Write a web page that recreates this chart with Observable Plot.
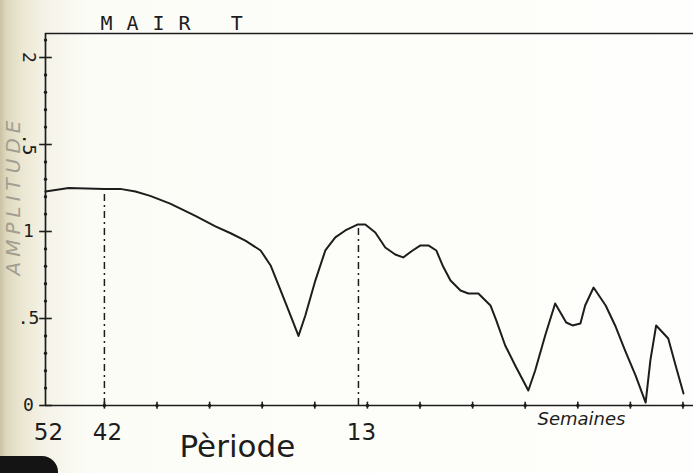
<!DOCTYPE html>
<html><head><meta charset="utf-8">
<script src="https://cdn.jsdelivr.net/npm/d3@7"></script>
<script src="https://cdn.jsdelivr.net/npm/@observablehq/plot@0.6"></script>
<style>
html,body{margin:0;padding:0;}
body{width:693px;height:473px;overflow:hidden;position:relative;
background:linear-gradient(to right,#c9c2a4 0px,#ddd7bd 6px,#ebe7d2 22px,#f5f3e8 45px,#fcfcf7 90px,#fefefc 100%);}
#chart{position:absolute;left:0;top:0;}
#corner{position:absolute;left:0;bottom:0;width:58px;height:17px;background:#141414;border-top-right-radius:16px;}
</style></head><body><div id="corner"></div><div id="chart"></div>
<script>
// position along the period axis (tick units; 42 weeks = 0) and amplitude
const position = [-1.12,-0.68,0,0.30,0.59,0.87,1.25,1.73,2.11,2.40,2.68,2.97,3.16,3.35,3.54,3.69,3.82,4.01,4.20,4.39,4.58,4.81,4.96,5.15,5.34,5.53,5.68,5.86,6.01,6.16,6.31,6.43,6.58,6.77,6.92,7.11,7.34,7.45,7.62,7.81,8.06,8.19,8.38,8.57,8.78,8.90,9.05,9.14,9.30,9.53,9.71,9.90,10.10,10.29,10.38,10.49,10.72,10.86,11.01];
const amplitude = [1.23,1.25,1.245,1.245,1.23,1.205,1.16,1.09,1.03,0.99,0.948,0.891,0.805,0.661,0.517,0.40,0.517,0.718,0.891,0.966,1.006,1.04,1.04,0.994,0.908,0.868,0.851,0.891,0.92,0.92,0.891,0.805,0.718,0.661,0.644,0.644,0.575,0.489,0.345,0.23,0.086,0.201,0.402,0.586,0.477,0.46,0.471,0.575,0.678,0.575,0.46,0.316,0.172,0.017,0.259,0.46,0.385,0.23,0.069];
const xTickPositions = [0,1,2,3,4,5,6,7,8,9,10,11];
const xLabelPositions = [-1.12, 0, 4.83];
const xLabels = ["52", "42", "13"];
const yMajor = [0, 0.5, 1, 1.5, 2];
const yLabels = ["0", ".5", "1", ".5", "2"];
const yLabelRotate = [0, 0, 0, 90, 90];
const yMinor = [0.1,0.2,0.3,0.4,0.6,0.7,0.8,0.9,1.1,1.2,1.3,1.4,1.6,1.7,1.8,1.9,2.1];
const markerPositions = [0, 4.83];
const markerAmplitudes = [1.22, 1.04];

const xMin = -1.12, xMax = 11.2, yMax = 2.138;
const data = position.map((p, i) => ({p, a: amplitude[i]}));
const markers = markerPositions.map((p, i) => ({p, a: markerAmplitudes[i]}));
const ink = "#1d1d1d";

const chart = Plot.plot({
  width: 693, height: 473,
  marginLeft: 45, marginRight: 0, marginTop: 33, marginBottom: 68,
  style: {background: "transparent", color: ink, fontFamily: "DejaVu Sans"},
  x: {domain: [xMin, xMax], axis: null},
  y: {domain: [0, yMax], axis: null},
  marks: [
    Plot.ruleY([0], {stroke: ink, strokeWidth: 1.7}),
    Plot.ruleY([yMax], {stroke: ink, strokeWidth: 1.5}),
    Plot.ruleX([xMin], {stroke: ink, strokeWidth: 1.7}),
    Plot.link(yMajor, {x1: xMin - 0.12, x2: xMin + 0.12, y1: d => d, y2: d => d, stroke: ink, strokeWidth: 1.6}),
    Plot.dot(yMinor, {x: () => xMin, y: d => d, r: 1.7, fill: ink, stroke: null}),
    Plot.text(yMajor, {x: xMin, y: d => d, text: (d, i) => yLabels[i], rotate: (d, i) => yLabelRotate[i],
      dx: -17, fontSize: 18, fontFamily: "DejaVu Sans Mono", textAnchor: "middle"}),
    Plot.link(xTickPositions, {x1: d => d, x2: d => d, y1: -0.018, y2: 0.022, stroke: ink, strokeWidth: 1.6}),
    Plot.dot(xTickPositions, {x: d => d, y: () => 0, r: 1.8, fill: ink, stroke: null}),
    Plot.ruleX(markers, {x: "p", y1: 0, y2: "a", stroke: ink, strokeWidth: 1.5, strokeDasharray: "7,4,2,4"}),
    Plot.line(data, {x: "p", y: "a", stroke: ink, strokeWidth: 2, curve: "linear"}),
    Plot.text(xLabelPositions, {x: d => d, y: () => 0, text: (d, i) => xLabels[i], dy: 27, dx: 3,
      fontSize: 23, fontFamily: "DejaVu Sans", textAnchor: "middle"}),
    Plot.text(["MAIR T"], {frameAnchor: "top-left", dx: 55, dy: -4, lineAnchor: "bottom", text: d => d, textAnchor: "start",
      fontSize: 20, fontFamily: "DejaVu Sans Mono"}),
    Plot.text(["Pèriode"], {frameAnchor: "bottom-left", dx: 134, dy: 51, text: d => d, textAnchor: "start",
      fontSize: 31, fontFamily: "DejaVu Sans"}),
    Plot.text(["Semaines"], {frameAnchor: "bottom-left", dx: 492, dy: 19, text: d => d, textAnchor: "start",
      fontSize: 18, fontFamily: "DejaVu Sans", fontStyle: "italic"}),
    Plot.text(["AMPLITUDE"], {frameAnchor: "left", dx: -32, dy: -24, text: d => d, rotate: -90, textAnchor: "middle",
      fontSize: 20, fontFamily: "DejaVu Sans", fontStyle: "italic", fill: "#a29e90"})
  ]
});
const sel = d3.select(chart).selectAll("text");
sel.filter(function() { return this.textContent === "MAIR T"; }).style("letter-spacing", "14px");
sel.filter(function() { return this.textContent === "AMPLITUDE"; }).style("letter-spacing", "5px");
document.getElementById("chart").append(chart);
</script></body></html>
